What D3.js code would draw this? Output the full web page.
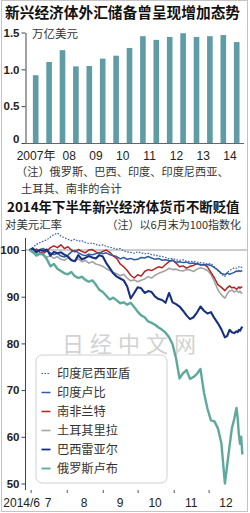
<!DOCTYPE html>
<html><head><meta charset="utf-8">
<script src="https://cdn.jsdelivr.net/npm/d3@7"></script>
<style>body{margin:0;background:#fff}svg{display:block}</style>
</head><body>
<svg id="c" width="250" height="513"></svg>
<script>
// ---------- DATA ----------
const barTitle = "新兴经济体外汇储备曾呈现增加态势";
const barUnit = "万亿美元";
const barPeriods = ["07H1","07H2","08H1","08H2","09H1","09H2","10H1","10H2","11H1","11H2","12H1","12H2","13H1","13H2","14H1","14H2"];
const barValues = [0.92,1.10,1.26,1.04,1.045,1.145,1.185,1.29,1.45,1.40,1.44,1.49,1.44,1.45,1.465,1.37];
const barYearLabels = ["2007年","08","09","10","11","12","13","14"];
const barYTicks = [0,0.5,1.0,1.5];
const noteLines = ["（注）俄罗斯、巴西、印度、印度尼西亚、","土耳其、南非的合计"];

const lineTitle = "2014年下半年新兴经济体货币不断贬值";
const lineUnit = "对美元汇率";
const lineNote = "（注）以6月末为100指数化";
const lineYTicks = [50,60,70,80,90,100];
const monthLabels = ["2014/6","7","8","9","10","11","12"];
// days after 2014-06-30
const dayOffsets = [0,3,6,9,12,15,18,21,24,27,30,33,36,39,42,45,48,51,54,57,60,63,66,69,72,75,78,81,84,87,90,93,96,99,102,105,108,111,114,117,120,123,126,129,132,135,138,141,144,147,150,153,156,159,162,165,168,170,172,174,176,178,179,180,181,182,183];
const idr = [100,100.6,101.2,101.6,101.9,102.2,102.8,103.3,103.6,103.0, 102.6,102.3,102.0,102.3,101.9,102.0,101.6,101.4,101.5,101.2, 101.0,101.1,100.8,100.6,100.4,100.2,100.3,99.8,99.6,99.5, 99.3,99.6,99.4,99.2,99.3,99.0,98.9,98.7,98.6,98.4, 98.1,98.2,97.9,97.8,97.9,97.6,97.5,97.6,97.4,97.3, 97.2,97.0,97.1,96.4,95.6,94.8,94.3, 95.2,95.6,95.9,96.2,96.1,96.3,96.4,96.2,96.3,96.3];
const inr = [100,99.7,99.4,100.1,100.3,99.8,99.4,99.0,99.3,98.7, 98.5,98.9,99.6,99.9,99.4,99.0,98.8,99.1,99.0,99.2, 99.5,99.2,99.4,99.0,98.8,98.6,98.1,98.4,98.0,98.2, 97.9,98.0,98.4,98.3,98.6,98.3,98.0,98.2,97.8,97.9, 97.7,97.8,97.4,97.5,97.3,97.4,97.1,97.2,97.0,96.9, 96.8,96.9,96.7,96.2,95.7,95.0,94.7, 95.1,94.8,95.0,95.2,95.5,95.4,95.6,95.4,95.5,95.6];
const zar = [100,99.6,100.2,99.5,99.3,99.8,100.5,100.9,100.5,101.1, 100.3,100.7,100.0,99.6,100.1,99.7,99.4,100.0,100.1,99.6, 99.3,99.7,100.0,99.5,98.7,98.2,97.0,96.4,95.6,94.6, 94.0,94.7,94.4,95.4,95.8,95.6,96.0,96.4,96.2,96.9, 97.5,97.8,97.2,96.4,96.6,96.1,96.5,96.7,97.1,96.8, 96.9,96.4,95.2,94.0,92.6,92.0,91.3, 91.9,92.3,91.9,92.0,91.6,91.8,92.1,91.8,92.1,92.0];
const tryL = [100,99.4,99.0,99.3,98.9,98.5,98.7,98.2,98.6,98.0, 97.8,98.3,97.9,97.6,98.1,97.5,97.8,97.2,97.5,97.0, 96.8,96.5,96.0,95.6,95.2,94.9,94.5,94.8,94.0,93.4, 93.6,93.2,93.5,93.8,94.3,94.0,94.6,95.0,95.3,95.6, 96.1,95.8,95.9,95.6,95.5,95.8,95.7,95.4,95.9,96.2, 96.0,95.6,94.8,93.2,91.5,90.4,89.7, 90.6,91.2,91.4,91.0,91.3,91.1,90.9,91.2,90.8,90.7];
const brl = [100,100.3,99.6,100,99.8,100.1,98.8,99.6,99.3,99.5, 99.0,98.6,97.8,97.6,98.9,98.0,98.3,98.7,98.4,98.2, 98.9,98.6,97.2,96.1,95.0,94.3,93.9,93.5,92.2,89.6, 90.8,92.0,91.8,90.8,91.2,91.0,90.0,89.5,89.3,88.7, 90.8,88.8,88.4,87.9,87.0,86.0,85.2,85.6,86.6,87.9, 87.0,86.4,86.7,85.4,84.3,83.0,81.3, 81.6,82.9,82.4,82.2,82.6,82.4,82.9,82.7,83.2,83.6];
const rub = [100,99.6,98.8,99.2,99.0,98.0,96.5,97.0,96.0,95.5, 95.0,94.8,95.3,94.4,94.0,94.3,93.6,93.2,93.5,92.6, 91.5,91.0,90.2,89.4,89.8,89.2,88.6,88.8,88.3,88.7, 87.8,86.8,86.0,85.6,84.7,84.4,84.0,83.4,82.9,82.3, 81.3,79.8,76.8,72.5,73.6,74.3,72.4,72.8,73.5,74.5, 69.5,66.0,63.5,63.3,61.8,58.6,50.0, 54.0,58.0,61.8,63.8,66.2,64.0,60.5,58.5,60.0,56.2];
const seriesNames = ["印度尼西亚盾","印度卢比","南非兰特","土耳其里拉","巴西雷亚尔","俄罗斯卢布"];
const watermark = "日经中文网";

// ---------- STYLE ----------
const NUM = "'Liberation Sans', Arial, 'Noto Sans CJK SC', sans-serif";
const CJK = "'Noto Sans CJK SC', 'Liberation Sans', sans-serif";
const styles = {
  "印度尼西亚盾": {color:"#3d63ad", w:1.2, dash:"1.6,1.4"},
  "印度卢比": {color:"#2f5ca6", w:1.5, dash:null},
  "南非兰特": {color:"#b2231f", w:1.5, dash:null},
  "土耳其里拉": {color:"#a3a3a3", w:1.6, dash:null},
  "巴西雷亚尔": {color:"#17307f", w:2.1, dash:null},
  "俄罗斯卢布": {color:"#5ea99b", w:2.4, dash:null}
};

const svg = d3.select("#c");
// frame
svg.append("rect").attr("x",1.5).attr("y",0.5).attr("width",246).attr("height",511)
  .attr("fill","none").attr("stroke","#c4c4c4").attr("stroke-width",1);

// ---------- TOP BAR CHART ----------
svg.append("text").attr("x",5).attr("y",18).text(barTitle)
  .attr("font-family",CJK).attr("font-weight",700).attr("font-size",14.7).attr("fill","#111");

const xb = d3.scaleBand().domain(barPeriods).range([29,243.4]).paddingInner(0.58).paddingOuter(0.29);
const yb = d3.scaleLinear().domain([0,1.5]).range([143,32.5]);

svg.selectAll("rect.bar").data(barValues).join("rect").attr("class","bar")
  .attr("x",(d,i)=>xb(barPeriods[i])).attr("width",xb.bandwidth())
  .attr("y",d=>yb(d)).attr("height",d=>yb(0)-yb(d)).attr("fill","#5f9ca6");

const yAxisB = svg.append("g").attr("transform","translate(25.5,0)")
  .call(d3.axisLeft(yb).tickValues(barYTicks).tickSize(4).tickSizeOuter(0).tickPadding(2)
    .tickFormat(d=> d===0 ? "0" : d3.format(".1f")(d)));
yAxisB.select(".domain").attr("stroke","#444");
yAxisB.selectAll(".tick line").attr("stroke","#444");
yAxisB.selectAll(".tick text").attr("font-family",NUM).attr("font-weight",700).attr("font-size",11.5).attr("fill","#222")
  .attr("dy",d=> d===0 ? "-0.05em" : "0.32em");
svg.append("line").attr("x1",25).attr("x2",244).attr("y1",143.5).attr("y2",143.5).attr("stroke","#666").attr("stroke-width",1);
svg.append("text").attr("x",32).attr("y",37.5).text(barUnit)
  .attr("font-family",CJK).attr("font-size",11.5).attr("fill","#333");

barYearLabels.forEach((lab,i)=>{
  const cx = (xb(barPeriods[2*i]) + xb(barPeriods[2*i+1]) + xb.bandwidth())/2;
  svg.append("text").attr("x", i===0 ? cx+13 : cx).attr("y",159.5)
    .attr("text-anchor", i===0 ? "end" : "middle").text(lab)
    .attr("font-family",NUM).attr("font-size",12).attr("fill","#222");
});
svg.append("text").attr("x",16).attr("y",176).text(noteLines[0])
  .attr("font-family",CJK).attr("font-size",11.2).attr("fill","#333");
svg.append("text").attr("x",21).attr("y",192.5).text(noteLines[1])
  .attr("font-family",CJK).attr("font-size",11.2).attr("fill","#333");

// ---------- BOTTOM LINE CHART ----------
svg.append("text").attr("x",7).attr("y",211.5).text(lineTitle)
  .attr("font-family",CJK).attr("font-weight",700).attr("font-size",13.4).attr("fill","#111");
svg.append("text").attr("x",5).attr("y",229).text(lineUnit)
  .attr("font-family",CJK).attr("font-size",11.4).attr("fill","#333");
svg.append("text").attr("x",241).attr("y",229).attr("text-anchor","end").text(lineNote)
  .attr("font-family",CJK).attr("font-size",11).attr("fill","#333");

const t0 = new Date(2014,5,30);
const dayDate = d => new Date(2014,5,30+d);
const xl = d3.scaleTime().domain([t0,new Date(2014,11,31)]).range([29.5,243.5]);
const yl = d3.scaleLinear().domain([50,100]).range([483.5,250]);

// watermark
svg.append("text").attr("x",62).attr("y",352).text(watermark)
  .attr("font-family",CJK).attr("font-size",22).attr("letter-spacing",6).attr("fill","#d2d2d2");

// 100 reference line
svg.append("line").attr("x1",25.5).attr("x2",247).attr("y1",yl(100)).attr("y2",yl(100))
  .attr("stroke","#9a9a9a").attr("stroke-width",1);

const yAxisL = svg.append("g").attr("transform","translate(25.5,0)")
  .call(d3.axisLeft(yl).tickValues(lineYTicks).tickSize(4).tickSizeOuter(0).tickPadding(2));
yAxisL.select(".domain").attr("d","M0,238V490").attr("stroke","#444");
yAxisL.selectAll(".tick line").attr("stroke","#444");
yAxisL.selectAll(".tick text").attr("font-family",NUM).attr("font-weight",700).attr("font-size",11.5).attr("fill","#222");

// month ticks
const monthStarts = [1,2,3,4,5].map(k=>new Date(2014,6+k-1,1)).concat([new Date(2014,11,1)]);
const xAxisL = svg.append("g").attr("transform","translate(0,490)")
  .call(d3.axisBottom(xl).tickValues(monthStarts).tickSize(3).tickFormat(""));
xAxisL.select(".domain").remove();
xAxisL.selectAll(".tick line").attr("stroke","#555");
monthLabels.forEach((lab,i)=>{
  let x;
  if(i===0) x = xl(new Date(2014,6,1)) - 9;
  else x = xl(new Date(2014,5+i,16));
  svg.append("text").attr("x",x).attr("y",506.5).attr("text-anchor","middle").text(lab)
    .attr("font-family",NUM).attr("font-size",12).attr("fill","#222");
});

// lines
const seriesVals = [idr,inr,zar,tryL,brl,rub];
const drawOrder = [3,2,0,1,4,5];
const line = d3.line().x((d,i)=>xl(dayDate(dayOffsets[i]))).y(d=>yl(d)).curve(d3.curveLinear);
drawOrder.forEach(k=>{
  const st = styles[seriesNames[k]];
  svg.append("path").datum(seriesVals[k]).attr("d",line)
    .attr("fill","none").attr("stroke",st.color).attr("stroke-width",st.w)
    .attr("stroke-linejoin","round").attr("stroke-dasharray",st.dash);
});

// legend
const lg = svg.append("g");
lg.append("rect").attr("x",36).attr("y",355).attr("width",131).attr("height",128).attr("rx",6)
  .attr("fill","#fff").attr("fill-opacity",0.92).attr("stroke","#d0d0d0").attr("stroke-width",1);
seriesNames.forEach((n,i)=>{
  const y = 373.5 + i*19;
  const st = styles[n];
  lg.append("line").attr("x1",41.5).attr("x2",50.5).attr("y1",y).attr("y2",y)
    .attr("stroke",st.color).attr("stroke-width",Math.min(st.w,1.8)).attr("stroke-dasharray",st.dash);
  lg.append("text").attr("x",57).attr("y",y+4.3).text(n)
    .attr("font-family",CJK).attr("font-size",12.2).attr("fill","#333");
});
</script>
</body></html>
